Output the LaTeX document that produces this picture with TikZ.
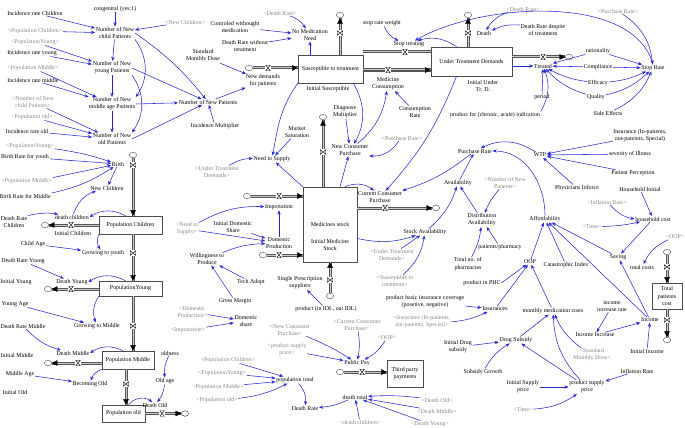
\documentclass[tikz,border=0pt]{standalone}
\usepackage{fontspec}
\setmainfont{Liberation Serif}
\usepackage{tikz}
\usetikzlibrary{shapes,arrows.meta,positioning,calc}
\definecolor{linkblue}{RGB}{40,40,215}
\definecolor{ghostgray}{RGB}{135,135,135}
\definecolor{pipeedge}{RGB}{85,85,85}
\definecolor{pipecore}{RGB}{200,200,200}
\newcommand{\vtext}{\fontsize{5.9}{7.1}\selectfont}

\begin{document}
\begin{tikzpicture}[x=1pt, y=-1pt,
    var/.style={font=\vtext, align=center, inner sep=0.6pt},
    ghost/.style={var, text=ghostgray},
    level/.style={draw=black!70, line width=0.6pt, font=\vtext, align=center, inner sep=1pt},
    link/.style={draw=linkblue, line width=0.55pt, -{Stealth[length=4.2pt, width=3.4pt]}},
    flowpipe/.style={draw=pipeedge, line width=1pt, double=pipecore, double distance=1pt},
    flowtip/.style={draw=pipecore, line width=1pt, -{Triangle[length=5.5pt, width=5.5pt, black, line width=0.2pt]}},
    valveh/.style={minimum width=5pt, minimum height=6pt, inner sep=0pt, fill=white,
      path picture={\draw[line width=0.45pt]
        ([shift={(0.25pt,-0.25pt)}]path picture bounding box.north west) --
        ([shift={(-0.25pt,-0.25pt)}]path picture bounding box.north east) --
        ([shift={(0.25pt,0.25pt)}]path picture bounding box.south west) --
        ([shift={(-0.25pt,0.25pt)}]path picture bounding box.south east) -- cycle;}},
    valvev/.style={minimum width=6pt, minimum height=5pt, inner sep=0pt, fill=white,
      path picture={\draw[line width=0.45pt]
        ([shift={(0.25pt,-0.25pt)}]path picture bounding box.north west) --
        ([shift={(0.25pt,0.25pt)}]path picture bounding box.south west) --
        ([shift={(-0.25pt,-0.25pt)}]path picture bounding box.north east) --
        ([shift={(-0.25pt,0.25pt)}]path picture bounding box.south east) -- cycle;}},
    sink/.style={cloud, cloud puffs=8, aspect=1.3, draw=black!70, fill=white, line width=0.4pt,
      minimum width=7.5pt, minimum height=6pt, inner sep=0pt}]
\useasboundingbox (0,0) rectangle (685,428);

% Number of new patients
\node[var] (congenital) at (115,9) {congenital (yes:1)};
\node[var] (incChild) at (35,13) {Incidence rate Children};
\node[ghost] (gPopChildA) at (35,31) {<Population Children>};
\node[var] (nChild) at (115,33) {Number of New\\child Patients};
\node[ghost] (gNewChildren) at (185,22) {<New Children>};
\node[ghost] (gPopYoungA) at (35,42) {<PopulationYoung>};
\node[var] (incYoung) at (32,53) {Incidence rate young};
\node[var] (nYoung) at (112,68) {Number of New\\young Patients};
\node[ghost] (gPopMiddleA) at (33,68) {<Population Middle>};
\node[var] (incMiddle) at (33,80) {Incidence rate middle};
\node[ghost] (gNChild) at (33,102) {<Number of New\\child Patients>};
\node[var] (nMiddle) at (112,104) {Number of New\\middle age Patients};
\node[ghost] (gPopOldA) at (32,117) {<Population old>};
\node[var] (incOld) at (27,131) {Incidence rate old};
\node[var] (nOld) at (112,139) {Number of New\\old Patients};
\node[var] (nNew) at (208,102) {Number of New Patients};
\node[var] (incMult) at (215,126) {Incidence Multiplier};

% Susceptible and under treatment
\node[level, minimum width=65pt, minimum height=28pt] (susceptible) at (330.5,69) {Susceptible to treatment};
\node[var] (initSus) at (328,89) {Initial Susceptible};
\node[level, minimum width=81pt, minimum height=29pt] (underTD) at (471.5,61.5) {Under Treatment Demands};
\node[var] (initUTD) at (483,86) {Initial Under\\Tr. D.};
\node[var] (ctrlNoMed) at (235,27) {Controled withought\\medication};
\node[var] (drNoTreat) at (245,46) {Death Rate without\\treatment};
\node[ghost] (gDeathRateA) at (280,13) {<Death Rate>};
\node[var] (stdDose) at (203,56) {Standard\\Monthly Dose};
\node[sink] (cNewDem) at (249,68) {};
\node[valveh] (vNewDem) at (268,68) {};
\node[var] (lNewDem) at (263,81) {New demands\\for patients};
\node[sink] (cNoMed) at (340,15) {};
\node[valvev] (vNoMed) at (340,33) {};
\node[var] (lNoMed) at (310,35) {No Medication\\Need};
\node[valveh] (vMedCons) at (388,70) {};
\node[var] (lMedCons) at (388,84) {Medicine\\Consumption};
\node[valveh] (vStopTreat) at (405,52) {};
\node[var] (lStopTreat) at (409,44) {Stop treating};
\node[var] (stopWeight) at (382,23) {stop rate weight};
\node[var] (consRate) at (415,112) {Consumption\\Rate};
\node[sink] (cDeath) at (468,15) {};
\node[valvev] (vDeath) at (468,33) {};
\node[var] (lDeath) at (484,33) {Death};
\node[ghost] (gDeathRateB) at (523,9) {<Death Rate>};
\node[var] (drDespite) at (543,30) {Death Rate despite\\of treatment};
\node[valveh] (vTreated) at (543,57) {};
\node[sink] (cTreated) at (569,57) {};
\node[var] (lTreated) at (543,66) {Treated};
\node[var] (productInd) at (495,115) {product for (chronic, acute) indication};
\node[var] (period) at (542,97) {period};
\node[var] (rationality) at (598,51) {rationality};
\node[var] (compliance) at (598,67) {Compliance};
\node[var] (efficacy) at (598,83) {Efficacy};
\node[var] (quality) at (596,97) {Quality};
\node[var] (sideEff) at (608,113) {Side Effects};
\node[var] (stopRate) at (653,68) {Stop Rate};
\node[ghost] (gPurchaseB) at (618,11) {<Purchase Rate>};
\node[ghost] (gPurchaseA) at (402,138) {<Purchase Rate>};

% Population chain
\node[ghost] (gPopYoungB) at (30,146) {<PopulationYoung>};
\node[var] (brYouth) at (25,157) {Birth Rate for youth};
\node[ghost] (gPopMiddleB) at (27,181) {<Population Middle>};
\node[var] (brMiddle) at (25,196) {Birth Rate for Middle};
\node[sink] (cBirth) at (133,155) {};
\node[valvev] (vBirth) at (133,165) {};
\node[var] (lBirth) at (118,164) {Birth};
\node[var] (newChildren) at (107,188) {New Children};
\node[level, minimum width=63pt, minimum height=18pt] (popChildren) at (130.5,225) {Population Children};
\node[var] (drChildren) at (14,222) {Death Rate\\Children};
\node[sink] (cDeathChildren) at (45,225) {};
\node[valveh] (vDeathChildren) at (71,225) {};
\node[var] (lDeathChildren) at (72,217) {death children};
\node[var] (initChildren) at (73,233) {Initial Children};
\node[var] (childAge) at (33,244) {Child Age};
\node[valvev] (vGrowYouth) at (133,253) {};
\node[var] (lGrowYouth) at (103,253) {Growing to youth};
\node[var] (drYoung) at (23,261) {Death Rate Young};
\node[level, minimum width=63pt, minimum height=15pt] (popYoung) at (130.5,288.5) {PopulationYoung};
\node[var] (initYoung) at (16,282) {Initial Young};
\node[sink] (cDeathYoung) at (48,289) {};
\node[valveh] (vDeathYoung) at (71,289) {};
\node[var] (lDeathYoung) at (72,282) {Death Young};
\node[var] (youngAge) at (15,304) {Young Age};
\node[valvev] (vGrowMiddle) at (133,326) {};
\node[var] (lGrowMiddle) at (97,326) {Growing to Middle};
\node[var] (drMiddle) at (23,326) {Death Rate Middle};
\node[level, minimum width=52pt, minimum height=18pt] (popMiddle) at (128,360) {Population Middle};
\node[var] (initMiddle) at (17,355) {Initial Middle};
\node[sink] (cDeathMiddle) at (48,363) {};
\node[valveh] (vDeathMiddle) at (78,363) {};
\node[var] (lDeathMiddle) at (73,353) {Death Middle};
\node[var] (middleAge) at (20,374) {Middle Age};
\node[valvev] (vBecomeOld) at (126,384) {};
\node[var] (lBecomeOld) at (90,384) {Becoming Old};
\node[var] (initOld) at (15,392) {Initial Old};
\node[level, minimum width=43pt, minimum height=17pt] (popOld) at (123.5,413.5) {Population old};
\node[valveh] (vDeathOld) at (162,413.5) {};
\node[sink] (cDeathOld) at (185,413.5) {};
\node[var] (lDeathOld) at (155,405) {Death Old};
\node[var] (oldness) at (170,353) {oldness};
\node[var] (oldAge) at (165,381) {Old age};

% Medicines stock
\node[level, minimum width=54pt, minimum height=75pt] (medStock) at (330,224.5) {Medicines stock};
\node[var] (initMed) at (330,245) {Initial Medicine\\Stock};
\node[var] (marketSat) at (297,132) {Market\\Saturation};
\node[var] (diagnose) at (345,112) {Diagnose\\Multiplier};
\node[var] (needSupply) at (272,159) {Need to Supply};
\node[ghost] (gUnderTDA) at (217,172) {<Under Treatment\\Demands>};
\node[sink] (cNewCons) at (323,117) {};
\node[valvev] (vNewCons) at (323,152) {};
\node[var] (lNewCons) at (350,150) {New Consumer\\Purchase};
\node[sink] (cImport) at (247,196) {};
\node[valveh] (vImport) at (279,196) {};
\node[var] (lImport) at (279,207) {Importation};
\node[ghost] (gNeedSupply) at (187,229) {<Need to\\Supply>};
\node[var] (initDomShare) at (233,227) {Initial Domestic\\Share};
\node[var] (lDomProd) at (279,243) {Domestic\\Production};
\node[sink] (cDomProd) at (263,255) {};
\node[valveh] (vDomProd) at (279,255) {};
\node[var] (willing) at (207,259) {Willingness to\\Produce};
\node[var] (techAdopt) at (251,282) {Tech Adopt};
\node[var] (singlePresc) at (300,283) {Single Prescription\\suppliers};
\node[valvev] (vProduct) at (330,280) {};
\node[sink] (cProduct) at (330,296) {};
\node[var] (lProduct) at (326,309) {product (in IDL, out IDL)};
\node[var] (grossMargin) at (235,301) {Gross Margin};
\node[ghost] (gDomProd) at (192,312) {<Domestic\\Production>};
\node[var] (domShare) at (246,321) {Domestic\\share};
\node[ghost] (gImport) at (188,330) {<Importation>};
\node[valveh] (vCurCons) at (385,208) {};
\node[sink] (cCurCons) at (436,208) {};
\node[var] (lCurCons) at (380,197) {Current Consumer\\Purchase};

% Population total and payments
\node[ghost] (gNewCons) at (290,330) {<New Consumer\\Purchase>};
\node[ghost] (gPSP) at (287,350) {<product supply\\price>};
\node[ghost] (gPopChildB) at (228,360) {<Population Children>};
\node[ghost] (gPopYoungC) at (222,373) {<PopulationYoung>};
\node[ghost] (gPopMiddleC) at (218,387) {<Population Middle>};
\node[ghost] (gPopOldB) at (217,400) {<Population old>};
\node[var] (popTotal) at (295,380) {population total};
\node[var] (deathRate) at (305,408) {Death Rate};
\node[ghost] (gCurCons) at (357,325) {<Current Consumer\\Purchase>};
\node[ghost] (gOOPB) at (387,338) {<OOP>};
\node[sink] (cPublicPay) at (340,372) {};
\node[valveh] (vPublicPay) at (362,372) {};
\node[var] (lPublicPay) at (357,363) {Public Pay};
\node[level, minimum width=36pt, minimum height=27pt] (thirdParty) at (405,373.5) {Third party\\payments};
\node[var] (deathTotal) at (355,397) {death total};
\node[ghost] (gDeathChildren) at (360,422) {<death children>};
\node[ghost] (gDeathOld) at (437,400) {<Death Old>};
\node[ghost] (gDeathMiddle) at (437,411) {<Death Middle>};
\node[ghost] (gDeathYoung) at (430,424) {<Death Young>};

% Purchase and affordability
\node[var] (stockAvail) at (425,232) {Stock Availability};
\node[ghost] (gUnderTDB) at (392,255) {<Under Treatment\\Demands>};
\node[ghost] (gSusc) at (395,281) {<Susceptible to\\treatment>};
\node[var] (availability) at (458,183) {Availability};
\node[var] (purchaseRate) at (475,151) {Purchase Rate};
\node[ghost] (gNumNew) at (505,183) {<Number of New\\Patients>};
\node[var] (distAvail) at (482,220) {Distribution\\Availability};
\node[var] (patPharm) at (500,247) {patients/pharmacy};
\node[var] (totPharm) at (468,264) {Total no. of\\pharmacies};
\node[var] (productPHC) at (482,283) {product in PHC};
\node[var] (insurance) at (640,136) {Insurance (In-patients,\\out-pateints, Special)};
\node[var] (wtp) at (540,155) {WTP};
\node[var] (severity) at (630,154) {severity of Illness};
\node[var] (patPerc) at (633,173) {Patient Perception};
\node[var] (physicians) at (577,188) {Physicians Inforce};
\node[var] (hhInitial) at (640,189) {Household Initial};
\node[ghost] (gInflation) at (607,202) {<Inflation Rate>};
\node[var] (hhCost) at (653,219) {household cost};
\node[ghost] (gTimeA) at (592,227) {<Time>};
\node[var] (afford) at (545,219) {Affordability};
\node[var] (saving) at (618,257) {Saving};
\node[var] (oop) at (530,262) {OOP};
\node[var] (catIndex) at (566,265) {Catastrophic Index};
\node[ghost] (gOOPA) at (675,237) {<OOP>};
\node[sink] (cTotalCosts) at (667,252) {};
\node[valvev] (vTotalCosts) at (667,267) {};
\node[var] (lTotalCosts) at (642,267) {total costs};
\node[level, minimum width=30pt, minimum height=26pt] (totalCost) at (667,296) {Total\\patients\\cost};
\node[valvev] (vIncome) at (667,320) {};
\node[sink] (cIncome) at (667,340) {};
\node[var] (lIncome) at (650,320) {Income};
\node[var] (prodBasic) at (425,302) {product basic insurance coverage\\(posetive, negative)};
\node[var] (insurances) at (495,309) {Insurances};
\node[ghost] (gInsurance) at (422,322) {<Insurance (In-patients,\\out-pateints, Special)>};
\node[var] (initDrugSub) at (458,347) {Initial Drug\\subsidy};
\node[var] (subGrowth) at (483,372) {Subsidy Growth};
\node[var] (drugSub) at (516,340) {Drug Subsidy};
\node[var] (monthlyMed) at (553,311) {monthly medication costs};
\node[var] (incIncRate) at (612,306) {income\\increase rate};
\node[var] (incIncrease) at (595,335) {Income Increase};
\node[ghost] (gStdDose) at (592,355) {<Standard\\Monthly Dose>};
\node[var] (initIncome) at (647,351) {Initial Income};
\node[var] (inflation) at (637,371) {Inflation Rate};
\node[var] (initSupply) at (523,387) {Initial Supply\\price};
\node[var] (psp) at (587,387) {product supply\\price};
\node[ghost] (gTimeB) at (523,410) {<Time>};

% Pipes
\draw[flowpipe] (cNewDem.east) -- (vNewDem.west);
\draw[flowpipe] (vNewDem.east) -- (vNewDem -| susceptible.west);
\draw[flowtip] (vNewDem.east) -- (vNewDem -| susceptible.west);
\draw[flowpipe] (vNoMed |- susceptible.north) -- (vNoMed.south);
\draw[flowpipe] (vNoMed.north) -- (cNoMed.south);
\draw[flowtip] (vNoMed.north) -- (cNoMed.south);
\draw[flowpipe] (vMedCons -| susceptible.east) -- (vMedCons.west);
\draw[flowpipe] (vMedCons.east) -- (vMedCons -| underTD.west);
\draw[flowtip] (vMedCons.east) -- (vMedCons -| underTD.west);
\draw[flowpipe] (vStopTreat -| underTD.west) -- (vStopTreat.east);
\draw[flowpipe] (vStopTreat.west) -- (vStopTreat -| susceptible.east);
\draw[flowpipe] (vDeath |- underTD.north) -- (vDeath.south);
\draw[flowpipe] (vDeath.north) -- (cDeath.south);
\draw[flowtip] (vDeath.north) -- (cDeath.south);
\draw[flowpipe] (vTreated -| underTD.east) -- (vTreated.west);
\draw[flowpipe] (vTreated.east) -- (cTreated.west);
\draw[flowtip] (vTreated.east) -- (cTreated.west);
\draw[flowpipe] (cBirth.south) -- (vBirth.north);
\draw[flowpipe] (vBirth.south) -- (vBirth |- popChildren.north);
\draw[flowtip] (vBirth.south) -- (vBirth |- popChildren.north);
\draw[flowpipe] (vDeathChildren -| popChildren.west) -- (vDeathChildren.east);
\draw[flowpipe] (vDeathChildren.west) -- (cDeathChildren.east);
\draw[flowtip] (vDeathChildren.west) -- (cDeathChildren.east);
\draw[flowpipe] (vGrowYouth |- popChildren.south) -- (vGrowYouth.north);
\draw[flowpipe] (vGrowYouth.south) -- (vGrowYouth |- popYoung.north);
\draw[flowtip] (vGrowYouth.south) -- (vGrowYouth |- popYoung.north);
\draw[flowpipe] (vDeathYoung -| popYoung.west) -- (vDeathYoung.east);
\draw[flowpipe] (vDeathYoung.west) -- (cDeathYoung.east);
\draw[flowtip] (vDeathYoung.west) -- (cDeathYoung.east);
\draw[flowpipe] (vGrowMiddle |- popYoung.south) -- (vGrowMiddle.north);
\draw[flowpipe] (vGrowMiddle.south) -- (vGrowMiddle |- popMiddle.north);
\draw[flowtip] (vGrowMiddle.south) -- (vGrowMiddle |- popMiddle.north);
\draw[flowpipe] (vDeathMiddle -| popMiddle.west) -- (vDeathMiddle.east);
\draw[flowpipe] (vDeathMiddle.west) -- (cDeathMiddle.east);
\draw[flowtip] (vDeathMiddle.west) -- (cDeathMiddle.east);
\draw[flowpipe] (vBecomeOld |- popMiddle.south) -- (vBecomeOld.north);
\draw[flowpipe] (vBecomeOld.south) -- (vBecomeOld |- popOld.north);
\draw[flowtip] (vBecomeOld.south) -- (vBecomeOld |- popOld.north);
\draw[flowpipe] (vDeathOld -| popOld.east) -- (vDeathOld.west);
\draw[flowpipe] (vDeathOld.east) -- (cDeathOld.west);
\draw[flowtip] (vDeathOld.east) -- (cDeathOld.west);
\draw[flowpipe] (vNewCons |- medStock.north) -- (vNewCons.south);
\draw[flowpipe] (vNewCons.north) -- (cNewCons.south);
\draw[flowtip] (vNewCons.north) -- (cNewCons.south);
\draw[flowpipe] (cImport.east) -- (vImport.west);
\draw[flowpipe] (vImport.east) -- (vImport -| medStock.west);
\draw[flowtip] (vImport.east) -- (vImport -| medStock.west);
\draw[flowpipe] (cDomProd.east) -- (vDomProd.west);
\draw[flowpipe] (vDomProd.east) -- (vDomProd -| medStock.west);
\draw[flowtip] (vDomProd.east) -- (vDomProd -| medStock.west);
\draw[flowpipe] (cProduct.north) -- (vProduct.south);
\draw[flowpipe] (vProduct.north) -- (vProduct |- medStock.south);
\draw[flowtip] (vProduct.north) -- (vProduct |- medStock.south);
\draw[flowpipe] (vCurCons -| medStock.east) -- (vCurCons.west);
\draw[flowpipe] (vCurCons.east) -- (cCurCons.west);
\draw[flowtip] (vCurCons.east) -- (cCurCons.west);
\draw[flowpipe] (cPublicPay.east) -- (vPublicPay.west);
\draw[flowpipe] (vPublicPay.east) -- (vPublicPay -| thirdParty.west);
\draw[flowtip] (vPublicPay.east) -- (vPublicPay -| thirdParty.west);
\draw[flowpipe] (cTotalCosts.south) -- (vTotalCosts.north);
\draw[flowpipe] (vTotalCosts.south) -- (vTotalCosts |- totalCost.north);
\draw[flowtip] (vTotalCosts.south) -- (vTotalCosts |- totalCost.north);
\draw[flowpipe] (vIncome |- totalCost.south) -- (vIncome.north);
\draw[flowpipe] (vIncome.south) -- (cIncome.north);
\draw[flowtip] (vIncome.south) -- (cIncome.north);

% Links: new patients
\draw[link] (incChild) -- (nChild);
\draw[link] (gPopChildA) -- (nChild);
\draw[link] (congenital) -- (nChild);
\draw[link] (gNewChildren) -- (nChild);
\draw[link] (nChild) -- (nYoung);
\draw[link] (nChild.south east) to[bend left=35] (nMiddle.north east);
\draw[link] (nChild.east) to[bend left=8] (nNew);
\draw[link] (gPopYoungA) -- (nYoung);
\draw[link] (incYoung) -- (nYoung);
\draw[link] (nYoung) -- (nMiddle);
\draw[link] (nYoung.south east) to[bend left=35] (nOld.north east);
\draw[link] (nYoung.east) -- (nNew);
\draw[link] (gPopMiddleA) -- (nMiddle);
\draw[link] (incMiddle) -- (nMiddle);
\draw[link] (gNChild) -- (nOld);
\draw[link] (nMiddle) -- (nOld);
\draw[link] (gPopOldA) -- (nOld);
\draw[link] (incOld) -- (nOld);
\draw[link] (nMiddle.east) -- (nNew);
\draw[link] (nOld.east) -- (nNew);
\draw[link] (incMult) -- (nNew);
\draw[link] (nNew) -- (lNewDem);
\draw[link] (stdDose) -- (lNewDem);

% Links: treatment
\draw[link] (ctrlNoMed) -- (lNoMed);
\draw[link] (drNoTreat) -- (lNoMed);
\draw[link] (gDeathRateA) to[bend left=20] (lNoMed);
\draw[link] (lNoMed |- susceptible.north) -- (lNoMed);
\draw[link] (susceptible.south west) to[out=235, in=80] (needSupply);
\draw[link] (marketSat) -- (needSupply);
\draw[link] (gUnderTDA) to[bend left=15] (needSupply);
\draw[link] (medStock.north west) -- (needSupply);
\draw[link] ([xshift=-10pt]susceptible.south east) to[bend left=30] (lNewCons);
\draw[link] (diagnose) -- (lNewCons);
\draw[link] (gPurchaseA) to[bend left=30] (lNewCons);
\draw[link] ([xshift=10pt]medStock.north) -- (lNewCons);
\draw[link] (lNewCons) to[bend right=20] (lMedCons);
\draw[link] (consRate) -- (lMedCons);
\draw[link] ([xshift=-15pt]underTD.north) to[bend right=25] (lStopTreat);
\draw[link] (stopWeight) to[bend right=20] (lStopTreat);
\draw[link] (stopRate.north) to[out=105, in=30, looseness=0.8] (lStopTreat);
\draw[link] (gDeathRateB) to[bend right=20] (lDeath);
\draw[link] (drDespite) to[bend right=15] (lDeath);
\draw[link] (lTreated -| underTD.east) -- (lTreated);
\draw[link] (rationality) -- (lTreated);
\draw[link] (compliance) -- (lTreated);
\draw[link] (efficacy) to[bend left=10] (lTreated);
\draw[link] (quality) to[bend left=15] (lTreated);
\draw[link] (period) -- (lTreated);
\draw[link] (productInd.north east) to[bend right=25] (lTreated);
\draw[link] (rationality) -- (stopRate);
\draw[link] (compliance) -- (stopRate);
\draw[link] (efficacy) to[bend right=10] (stopRate);
\draw[link] (quality) to[bend right=15] (stopRate);
\draw[link] (sideEff) to[bend right=20] (stopRate);
\draw[link] (gPurchaseB) to[bend left=25] (stopRate);

% Links: population chain
\draw[link] (gPopYoungB) to[bend left=5] (lBirth);
\draw[link] (brYouth) -- (lBirth);
\draw[link] (gPopMiddleB.north east) -- (lBirth);
\draw[link] (brMiddle.north east) to[bend right=10] (lBirth);
\draw[link] (lBirth) -- (newChildren);
\draw[link] (lDeathChildren) to[bend left=25] (newChildren);
\draw[link] (drChildren.north east) to[bend left=10] (lDeathChildren);
\draw[link] ([xshift=-5pt]popChildren.north) to[bend right=30] (lDeathChildren.east);
\draw[link] (popChildren.south west) to[bend right=25] (lGrowYouth);
\draw[link] (childAge) -- (lGrowYouth);
\draw[link] (drYoung) -- (lDeathYoung);
\draw[link] ([xshift=-5pt]popYoung.north) to[bend right=30] (lDeathYoung.east);
\draw[link] (youngAge) -- (lGrowMiddle);
\draw[link] (popYoung.south west) to[bend right=25] (lGrowMiddle);
\draw[link] (drMiddle) to[bend right=15] (lDeathMiddle);
\draw[link] ([xshift=-5pt]popMiddle.north) to[bend right=30] (lDeathMiddle.east);
\draw[link] (middleAge) -- (lBecomeOld);
\draw[link] (popMiddle.south west) to[bend right=25] (lBecomeOld);
\draw[link] ([xshift=5pt]popOld.north) to[bend left=45] (lDeathOld);
\draw[link] (oldAge) to[bend left=15] (lDeathOld);
\draw[link] (oldness) to[bend right=15] (oldAge);

% Links: medicines stock
\draw[link] (gNeedSupply) to[bend left=15] (lImport);
\draw[link] (gNeedSupply) -- (lDomProd);
\draw[link] (initDomShare) -- (lDomProd);
\draw[link] (willing) to[bend left=10] (lDomProd);
\draw[link] (lDomProd) -- (lImport);
\draw[link] (techAdopt) -- (willing);
\draw[link] (grossMargin) -- (willing);
\draw[link] (gDomProd) -- (domShare);
\draw[link] (gImport) -- (domShare);
\draw[link] (lProduct) -- (singlePresc);
\draw[link] ([xshift=15pt]medStock.north) to[bend left=30] (lCurCons);
\draw[link] ([xshift=-15pt]underTD.south) to[bend left=10] (lCurCons);
\draw[link] (purchaseRate) to[bend left=10] (lCurCons);
\draw[link] ([yshift=-14pt]medStock.east) to[bend right=15] (stockAvail);
\draw[link] (gUnderTDB) -- (stockAvail);
\draw[link] (gSusc) to[bend right=20] (stockAvail);
\draw[link] (stockAvail) to[bend right=15] (availability);
\draw[link] (distAvail) -- (availability);
\draw[link] (availability) -- (purchaseRate);
\draw[link] (gNumNew) to[bend right=10] (distAvail);
\draw[link] (totPharm) to[bend right=10] (distAvail);
\draw[link] (patPharm) -- (distAvail);

% Links: payments and totals
\draw[link] (gNewCons) to[bend left=5] (lPublicPay);
\draw[link] (gPSP) -- (lPublicPay);
\draw[link] (gCurCons) to[bend left=10] (lPublicPay);
\draw[link] (gOOPB) to[bend left=15] (lPublicPay);
\draw[link] (gPopChildB) -- (popTotal);
\draw[link] (gPopYoungC) -- (popTotal);
\draw[link] (gPopMiddleC) -- (popTotal);
\draw[link] (gPopOldB) to[bend right=10] (popTotal);
\draw[link] (popTotal) to[bend left=25] (deathRate);
\draw[link] (deathTotal) to[bend left=10] (deathRate);
\draw[link] (gDeathChildren) -- (deathTotal);
\draw[link] (gDeathOld) to[bend right=5] (deathTotal);
\draw[link] (gDeathMiddle) -- (deathTotal);
\draw[link] (gDeathYoung) -- (deathTotal);

% Links: affordability
\draw[link] (insurance) -- (wtp);
\draw[link] (severity) -- (wtp);
\draw[link] (patPerc) -- (wtp);
\draw[link] (physicians) -- (wtp);
\draw[link] (wtp) to[bend right=30] (purchaseRate);
\draw[link] (afford) to[out=90, in=0] (purchaseRate.east);
\draw[link] (hhInitial) -- (hhCost);
\draw[link] (gInflation) to[bend right=20] (hhCost);
\draw[link] (gTimeA) to[bend right=5] (hhCost);
\draw[link] (hhCost) -- (saving);
\draw[link] (saving) -- (afford);
\draw[link] (oop) -- (afford);
\draw[link] (catIndex) -- (afford);
\draw[link] (lIncome) -- (afford);
\draw[link] (lIncome) -- (saving);
\draw[link] (gOOPA) to[bend right=20] (lTotalCosts);
\draw[link] (productPHC.east) -- (oop);
\draw[link] (insurances) -- (oop);
\draw[link] (monthlyMed) -- (oop);
\draw[link] (prodBasic) -- (insurances);
\draw[link] (gInsurance) to[bend right=10] (insurances);
\draw[link] (initDrugSub) -- (drugSub);
\draw[link] (subGrowth) to[bend left=15] (drugSub);
\draw[link] (drugSub) -- (monthlyMed);
\draw[link] (psp) to[bend left=20] (monthlyMed);
\draw[link] (psp) -- (drugSub);
\draw[link] (gStdDose) to[bend left=15] (monthlyMed);
\draw[link] (incIncRate) -- (incIncrease);
\draw[link] (incIncrease) -- (lIncome);
\draw[link] (initIncome) -- (lIncome);
\draw[link] (inflation) -- (psp);
\draw[link] (initSupply) -- (psp);
\draw[link] (gTimeB) to[bend right=15] (psp);
\end{tikzpicture}
\end{document}
